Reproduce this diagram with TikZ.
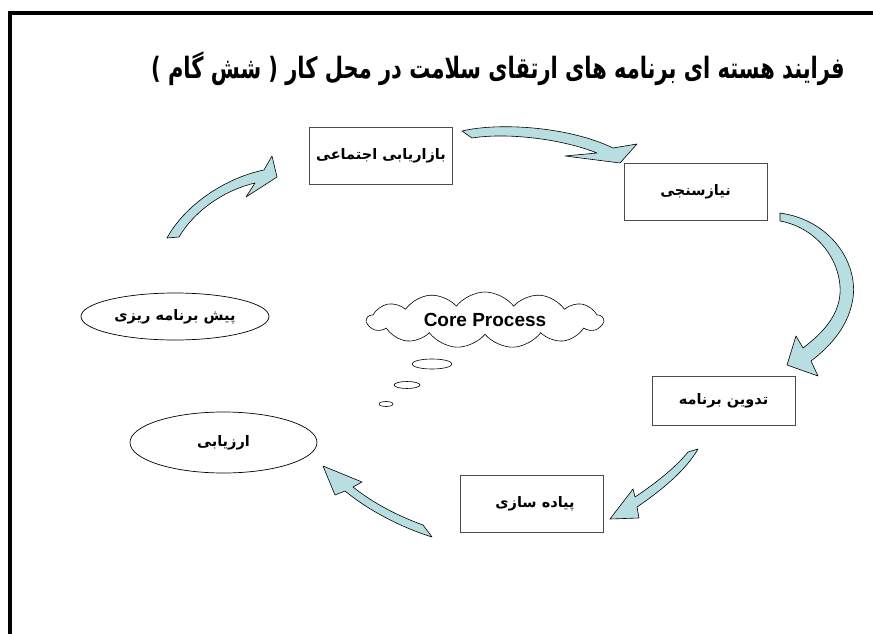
\documentclass[tikz,border=0pt]{standalone}
\usepackage{fontspec}
\usetikzlibrary{shapes.geometric,shapes.symbols}
\setsansfont{Liberation Sans}
\newfontfamily\arabicfont[Script=Arabic]{DejaVu Sans}
\TeXXeTstate=1
\definecolor{freccia}{RGB}{185,222,225}
\tikzset{
  casella/.style={draw=black!70,line width=0.8pt,inner sep=0pt,minimum width=143pt,minimum height=57pt,font=\arabicfont\bfseries\fontsize{14.5}{18}\selectfont},
  ovale/.style={draw,ellipse,line width=0.7pt,inner sep=0pt,font=\arabicfont\bfseries\fontsize{14.5}{18}\selectfont},
  blocco/.style={fill=freccia,draw=black,line width=0.6pt,line join=round}
}
\begin{document}
\begin{tikzpicture}[x=1pt,y=-1pt]
         \useasboundingbox (0,0) rectangle (873,634);
         %cornice
         \draw[line width=4pt] (10,640) -- (10,13.5) -- (880,13.5);
         %titolo
         \node[anchor=east,inner sep=0pt,font=\arabicfont\bfseries\fontsize{21}{25}\selectfont] (titolo) at (845,69) {\scalebox{1}[1.4]{\beginR فرایند هسته ای برنامه های ارتقای سلامت در محل کار ( شش گام )\endR}};
         %caselle
         \node[casella] (marketing) at (381,155.5) {\beginR بازاریابی اجتماعی\endR};
         \node[casella] (bisogni) at (695.5,191.5) {\beginR نیازسنجی\endR};
         \node[casella,minimum height=49pt] (stesura) at (723.5,400.5) {\beginR تدوین برنامه\endR};
         \node[casella] (attuazione) at (531.5,503.5) {\hspace{7pt}\beginR پیاده سازی\endR};
         %ovali
         \node[ovale,minimum width=188pt,minimum height=47pt] (prepiano) at (175,316.5) {\beginR پیش برنامه ریزی\endR};
         \node[ovale,minimum width=187pt,minimum height=61pt] (valutazione) at (223.5,442.5) {\beginR ارزیابی\endR};
         %nuvola
         \node[cloud,draw,line width=0.6pt,cloud puffs=13,cloud puff arc=105,cloud ignores aspect,inner sep=0pt,minimum width=236pt,minimum height=56pt,font=\sffamily\bfseries\fontsize{19}{22}\selectfont] (nuvola) at (485,320) {Core Process};
         \draw[line width=0.6pt] (432,364) ellipse [x radius=20pt, y radius=5pt];
         \draw[line width=0.6pt] (407,385) ellipse [x radius=13pt, y radius=3.5pt];
         \draw[line width=0.6pt] (386,404) ellipse [x radius=7pt, y radius=2.5pt];
         %frecce
         \draw[blocco] (462,131) .. controls (500,122) and (570,127) .. (613,148) -- (637,144) -- (620,163) -- (565,156) -- (597,153) .. controls (565,140) and (510,132) .. (472,138) -- cycle;
         \draw[blocco] (780,213) .. controls (830,220) and (858,262) .. (853,298) .. controls (849,325) and (832,345) .. (811,361) -- (818,376) -- (787,365) -- (796,336) -- (803,348) .. controls (820,335) and (838,318) .. (840,294) .. controls (842,262) and (818,228) .. (780,221) -- cycle;
         \draw[blocco] (698,449) .. controls (686,470) and (662,490) .. (637,507) -- (639,518) -- (610,519) -- (633,489) -- (635,497) .. controls (656,483) and (676,467) .. (688,452) -- cycle;
         \draw[blocco] (423,525) .. controls (398,516) and (373,503) .. (353,487) -- (362,482) -- (323,466) -- (335,495) -- (345,491) .. controls (368,510) and (400,527) .. (432,537) -- cycle;
         \draw[blocco] (167,238) .. controls (185,205) and (225,178) .. (264,170) -- (272,156) -- (277,177) -- (246,197) -- (255,183) .. controls (225,190) and (195,210) .. (179,237) -- cycle;
\end{tikzpicture}
\end{document}
